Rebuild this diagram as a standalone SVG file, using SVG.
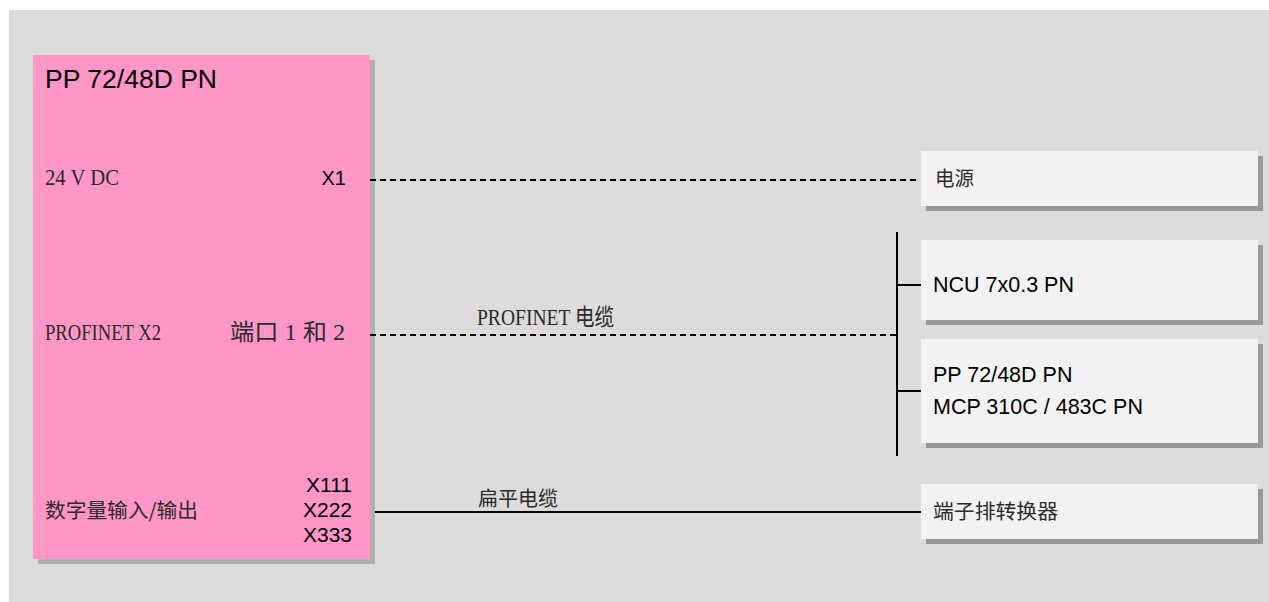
<svg xmlns="http://www.w3.org/2000/svg" width="1269" height="602" viewBox="0 0 1269 602">
<style>
.sans{font-family:"Liberation Sans",Arial,"Noto Sans CJK SC",sans-serif;fill:#000}
.ser{font-family:"Liberation Serif","Noto Sans CJK SC",serif;fill:#2a2a2a;font-size:23px}
.cjk{font-family:"Noto Sans CJK SC","Liberation Sans",sans-serif;fill:#2a2a2a;font-size:20px}
.box{fill:#f2f2f2}
.shd{fill:#999}
.dash{stroke:#000;stroke-width:2;stroke-dasharray:6 4;fill:none}
.solid{stroke:#000;stroke-width:2;fill:none}
</style>
<rect x="9" y="10" width="1260" height="592" fill="#dcdcdc"/>
<g id="pp-module">
<rect x="38" y="60" width="337" height="504" fill="#b0b0b0"/>
<rect x="33" y="55" width="337" height="504" fill="#ff96c8"/>
<text class="sans" x="45" y="88" font-size="26" textLength="172" lengthAdjust="spacingAndGlyphs">PP 72/48D PN</text>
<text class="ser" x="45" y="185" textLength="74" lengthAdjust="spacingAndGlyphs">24 V DC</text>
<text class="sans" x="346" y="185" font-size="20" text-anchor="end">X1</text>
<text class="ser" x="45" y="340" textLength="116" lengthAdjust="spacingAndGlyphs">PROFINET X2</text>
<text class="ser" x="230" y="340" font-size="21" textLength="115" lengthAdjust="spacingAndGlyphs">端口 1 和 2</text>
<text class="cjk" x="45" y="518" textLength="153" lengthAdjust="spacingAndGlyphs">数字量输入/输出</text>
<text class="sans" x="352" y="492" font-size="21" text-anchor="end">X111</text>
<text class="sans" x="352" y="517" font-size="21" text-anchor="end">X222</text>
<text class="sans" x="352" y="542" font-size="21" text-anchor="end">X333</text>
</g>
<g id="connectors">
<line class="dash" x1="370" y1="180" x2="920" y2="180"/>
<line class="dash" x1="370" y1="335" x2="897" y2="335"/>
<line class="solid" x1="375" y1="512" x2="921" y2="512"/>
<line class="solid" x1="897" y1="232" x2="897" y2="456"/>
<line class="solid" x1="897" y1="285" x2="922" y2="285"/>
<line class="solid" x1="897" y1="391" x2="922" y2="391"/>
<text class="ser" x="477" y="325" font-size="22" textLength="137" lengthAdjust="spacingAndGlyphs">PROFINET 电缆</text>
<text class="cjk" x="478" y="506" textLength="80" lengthAdjust="spacingAndGlyphs">扁平电缆</text>
</g>
<g id="power">
<rect class="shd" x="926" y="156" width="337" height="55"/>
<rect class="box" x="921" y="151" width="337" height="55"/>
<text class="cjk" x="935" y="186" textLength="39" lengthAdjust="spacingAndGlyphs">电源</text>
</g>
<g id="ncu">
<rect class="shd" x="926" y="245" width="337" height="80"/>
<rect class="box" x="921" y="240" width="337" height="80"/>
<text class="sans" x="933" y="292" font-size="21.5">NCU 7x0.3 PN</text>
</g>
<g id="pp-mcp">
<rect class="shd" x="926" y="344" width="337" height="104"/>
<rect class="box" x="921" y="339" width="337" height="104"/>
<text class="sans" x="933" y="382" font-size="21.5">PP 72/48D PN</text>
<text class="sans" x="933" y="414" font-size="21.5">MCP 310C / 483C PN</text>
</g>
<g id="terminal">
<rect class="shd" x="926" y="489" width="337" height="55"/>
<rect class="box" x="921" y="484" width="337" height="55"/>
<text class="cjk" x="933" y="519" textLength="125" lengthAdjust="spacingAndGlyphs">端子排转换器</text>
</g>
</svg>
